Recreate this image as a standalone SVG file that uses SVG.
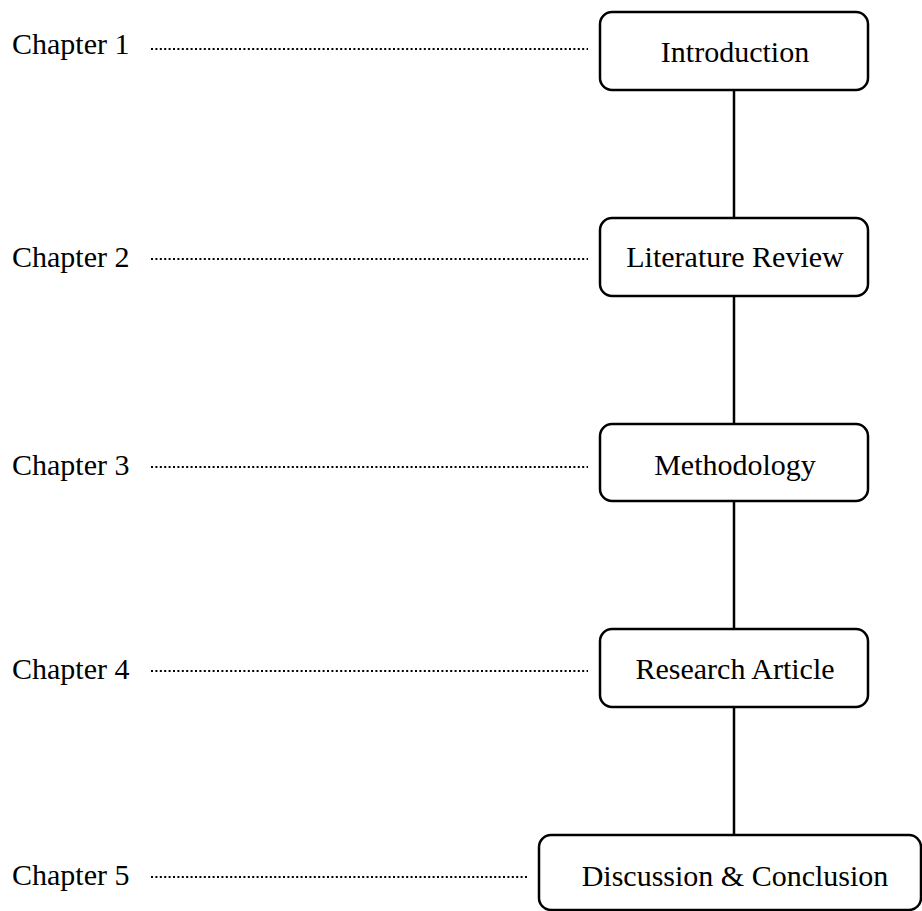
<svg xmlns="http://www.w3.org/2000/svg" width="922" height="911" viewBox="0 0 922 911">
<style>
.box{fill:#fff;stroke:#000;stroke-width:2.5}
.t{font-family:"Liberation Serif","Times New Roman",serif;font-size:30px;fill:#000}
.c{text-anchor:middle}
.link{stroke:#000;stroke-width:2.5;fill:none}
.dot{stroke:#000;stroke-width:2;stroke-dasharray:2 2.4;fill:none}
</style>
<rect width="922" height="911" fill="#fff"/>
<g id="connectors">
<line class="link" x1="734" y1="90" x2="734" y2="218"/>
<line class="link" x1="734" y1="296" x2="734" y2="424"/>
<line class="link" x1="734" y1="501" x2="734" y2="629"/>
<line class="link" x1="734" y1="707" x2="734" y2="835"/>
<line class="dot" x1="151" y1="49" x2="588" y2="49"/>
<line class="dot" x1="151" y1="259" x2="588" y2="259"/>
<line class="dot" x1="151" y1="467" x2="588" y2="467"/>
<line class="dot" x1="151" y1="671" x2="588" y2="671"/>
<line class="dot" x1="151" y1="877" x2="527" y2="877"/>
</g>
<g id="ch1"><text class="t" x="12" y="54">Chapter 1</text></g>
<g id="ch2"><text class="t" x="12" y="267">Chapter 2</text></g>
<g id="ch3"><text class="t" x="12" y="475">Chapter 3</text></g>
<g id="ch4"><text class="t" x="12" y="679">Chapter 4</text></g>
<g id="ch5"><text class="t" x="12" y="885">Chapter 5</text></g>
<g id="introduction"><rect class="box" x="600" y="12" width="268" height="78" rx="12"/><text class="t c" x="735" y="62">Introduction</text></g>
<g id="literature"><rect class="box" x="600" y="218" width="268" height="78" rx="12"/><text class="t c" x="735" y="267">Literature Review</text></g>
<g id="methodology"><rect class="box" x="600" y="424" width="268" height="77" rx="12"/><text class="t c" x="735" y="475">Methodology</text></g>
<g id="research"><rect class="box" x="600" y="629" width="268" height="78" rx="12"/><text class="t c" x="735" y="679">Research Article</text></g>
<g id="discussion"><rect class="box" x="539" y="835" width="382" height="75" rx="12"/><text class="t c" x="735" y="886">Discussion &amp; Conclusion</text></g>
</svg>
